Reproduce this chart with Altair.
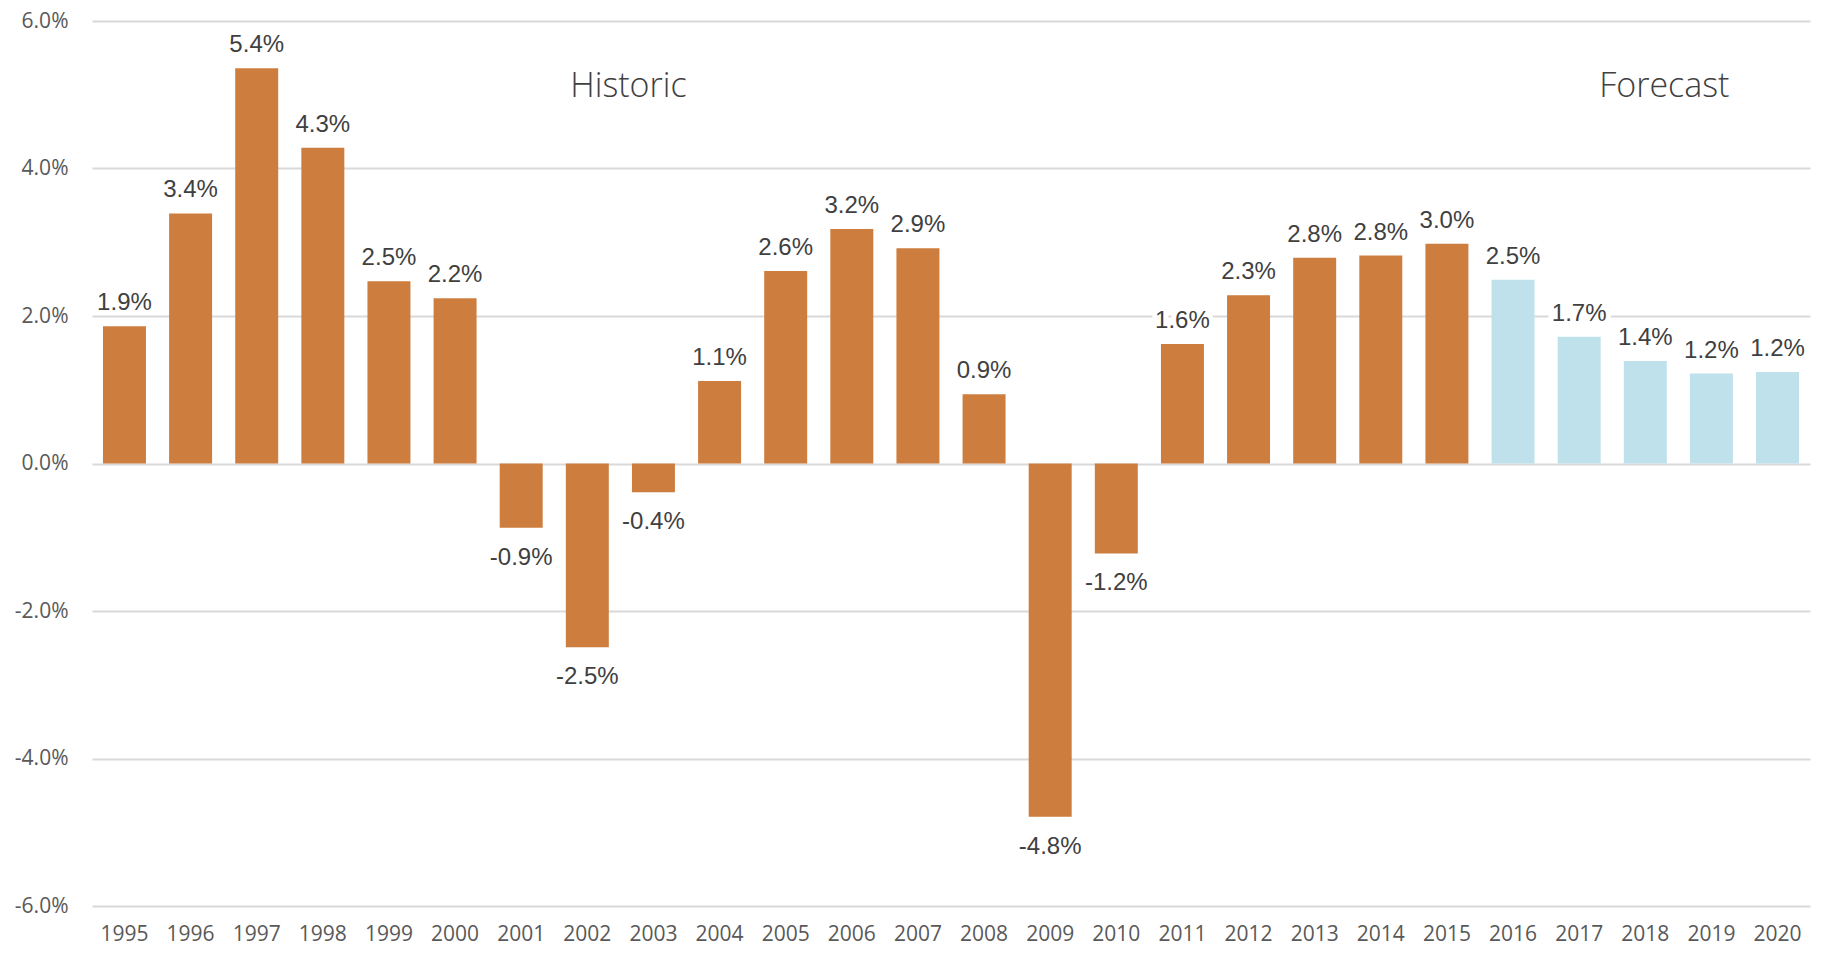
import altair as alt
import pandas as pd

years = [str(y) for y in range(1995, 2021)]
growth_pct = [1.86, 3.39, 5.36, 4.28, 2.47, 2.24, -0.87, -2.49, -0.39, 1.12,
              2.61, 3.18, 2.92, 0.94, -4.79, -1.22, 1.62, 2.28, 2.79, 2.82,
              2.98, 2.49, 1.72, 1.39, 1.22, 1.24]
period = ["Historic"] * 21 + ["Forecast"] * 5

annot_text = ["Historic", "Forecast"]
annot_year = ["2003", "2018"]
annot_dx = [-25, 19]
annot_y = [0.051, 0.051]

df = pd.DataFrame({"year": years, "value": [v / 100 for v in growth_pct], "period": period})
ann = pd.DataFrame({"text": annot_text, "year": annot_year, "y": annot_y, "dx": annot_dx})

AXIS_FONT = "Liberation Sans Narrow, Open Sans"

x = alt.X("year:N", sort=years, title=None,
          scale=alt.Scale(paddingInner=0.35, paddingOuter=0.166),
          axis=alt.Axis(labelAngle=0, ticks=False, domain=False, labelPadding=17,
                        labelFont=AXIS_FONT, labelFontSize=21,
                        labelColor="#595959", grid=False))
y = alt.Y("value:Q", title=None,
          scale=alt.Scale(domain=[-0.06, 0.06], nice=False, zero=False),
          axis=alt.Axis(values=[-0.06, -0.04, -0.02, 0, 0.02, 0.04, 0.06],
                        labelExpr="replace(format(datum.value, '.1%'), '\u2212', '-')",
                        ticks=False, domain=False, labelPadding=24,
                        labelFont=AXIS_FONT, labelFontSize=21,
                        labelColor="#595959", gridColor="#d9d9d9", gridWidth=2))

base = alt.Chart(df).transform_calculate(
    label="replace(format(datum.value, '.1%'), '\u2212', '-')"
)

bars = base.mark_bar().encode(
    x=x, y=y, y2=alt.datum(0),
    color=alt.Color("period:N", scale=alt.Scale(domain=["Historic", "Forecast"],
                                                  range=["#CD7D3E", "#BEE1EB"]), legend=None),
)

def labels(cond, baseline, dy, halo):
    props = dict(font="Liberation Sans", fontSize=24, baseline=baseline, dy=dy)
    if halo:
        m = base.mark_text(color="white", stroke="white", strokeWidth=10, **props)
    else:
        m = base.mark_text(color="#404040", **props)
    return m.encode(x=alt.X("year:N", sort=years), y="value:Q",
                    text="label:N").transform_filter(cond)

pos = "datum.value >= 0"
neg = "datum.value < 0"
layers = [
    labels(pos, "alphabetic", -16, True), labels(neg, "top", 18, True),
    labels(pos, "alphabetic", -16, False), labels(neg, "top", 18, False),
]

ann_layers = []
for i in range(len(annot_text)):
    ann_layers.append(
        alt.Chart(ann.iloc[[i]]).mark_text(font="Open Sans", fontSize=34, fontWeight=300,
                                           color="#404040", baseline="middle",
                                           dx=annot_dx[i]).encode(
            x=alt.X("year:N", sort=years), y="y:Q", text="text:N")
    )

chart = alt.layer(bars, *layers, *ann_layers).properties(
    width=1718, height=885,
    autosize=alt.AutoSizeParams(type="none"),
    padding={"left": 84, "top": 13, "right": 19, "bottom": 42},
).configure_view(stroke=None)

chart.save("out.html", embed_options={"renderer": "svg", "actions": False})
